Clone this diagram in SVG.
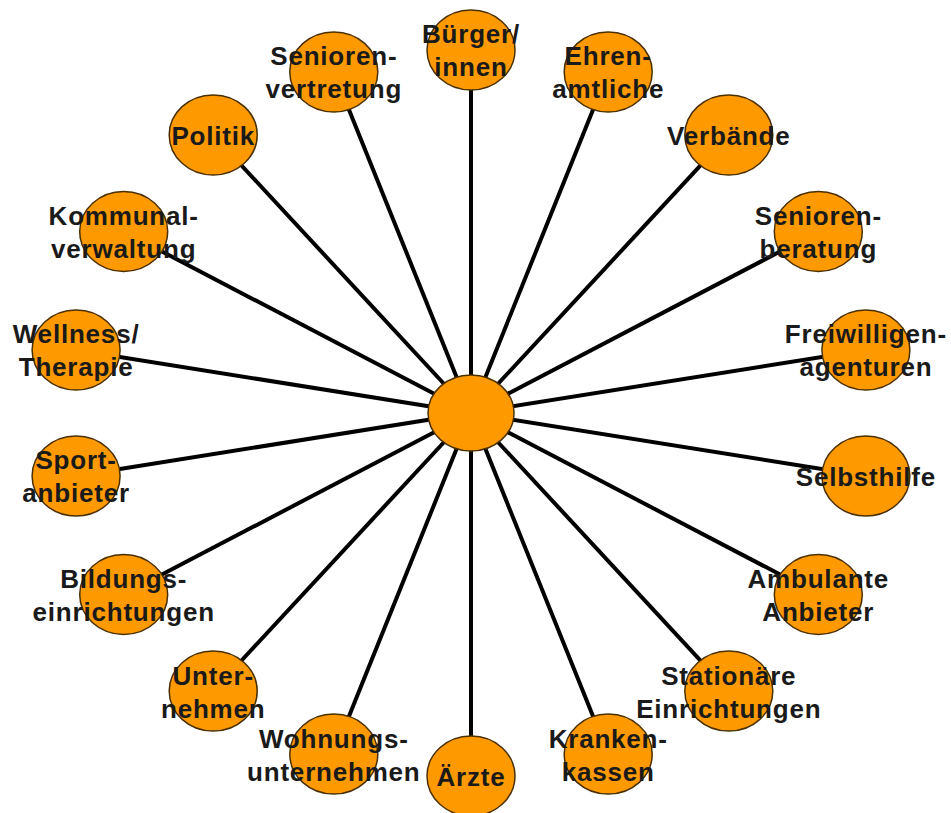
<svg xmlns="http://www.w3.org/2000/svg" width="951" height="813" viewBox="0 0 951 813">
<style>
.bg{fill:#ffffff}
.edge{stroke:#000000;stroke-width:4;fill:none}
.node ellipse{fill:#ff9900;stroke:#4a3000;stroke-width:1.5}
.node text{font-family:"Liberation Sans",Arial,sans-serif;font-weight:bold;font-size:26px;letter-spacing:0.8px;fill:#1a1a1a;text-anchor:middle}
</style>
<rect class="bg" x="0" y="0" width="951" height="813"/>
<g id="connectors">
<line class="edge" x1="471" y1="413" x2="471" y2="50"/>
<line class="edge" x1="471" y1="413" x2="608.2" y2="71.9"/>
<line class="edge" x1="471" y1="413" x2="728.8" y2="134.9"/>
<line class="edge" x1="471" y1="413" x2="818.3" y2="231.5"/>
<line class="edge" x1="471" y1="413" x2="865.9" y2="350"/>
<line class="edge" x1="471" y1="413" x2="865.9" y2="476"/>
<line class="edge" x1="471" y1="413" x2="818.3" y2="594.5"/>
<line class="edge" x1="471" y1="413" x2="728.8" y2="691.1"/>
<line class="edge" x1="471" y1="413" x2="608.2" y2="754.1"/>
<line class="edge" x1="471" y1="413" x2="471" y2="776"/>
<line class="edge" x1="471" y1="413" x2="333.8" y2="754.1"/>
<line class="edge" x1="471" y1="413" x2="213.2" y2="691.1"/>
<line class="edge" x1="471" y1="413" x2="123.7" y2="594.5"/>
<line class="edge" x1="471" y1="413" x2="76.1" y2="476"/>
<line class="edge" x1="471" y1="413" x2="76.1" y2="350"/>
<line class="edge" x1="471" y1="413" x2="123.7" y2="231.5"/>
<line class="edge" x1="471" y1="413" x2="213.2" y2="134.9"/>
<line class="edge" x1="471" y1="413" x2="333.8" y2="71.9"/>
</g>
<g id="center" class="node"><ellipse cx="471" cy="413" rx="43" ry="38"/></g>
<g id="buerger" class="node"><ellipse cx="471" cy="50" rx="44" ry="40"/><text x="471" y="43">Bürger/</text><text x="471" y="76">innen</text></g>
<g id="ehrenamtliche" class="node"><ellipse cx="608.2" cy="71.9" rx="44" ry="40"/><text x="608.2" y="65">Ehren-</text><text x="608.2" y="98">amtliche</text></g>
<g id="verbaende" class="node"><ellipse cx="728.8" cy="134.9" rx="44" ry="40"/><text x="728.8" y="145">Verbände</text></g>
<g id="seniorenberatung" class="node"><ellipse cx="818.3" cy="231.5" rx="44" ry="40"/><text x="818.3" y="225">Senioren-</text><text x="818.3" y="258">beratung</text></g>
<g id="freiwilligen" class="node"><ellipse cx="865.9" cy="350" rx="44" ry="40"/><text x="865.9" y="343">Freiwilligen-</text><text x="865.9" y="376">agenturen</text></g>
<g id="selbsthilfe" class="node"><ellipse cx="865.9" cy="476" rx="44" ry="40"/><text x="865.9" y="486">Selbsthilfe</text></g>
<g id="ambulante" class="node"><ellipse cx="818.3" cy="594.5" rx="44" ry="40"/><text x="818.3" y="588">Ambulante</text><text x="818.3" y="621">Anbieter</text></g>
<g id="stationaere" class="node"><ellipse cx="728.8" cy="691.1" rx="44" ry="40"/><text x="728.8" y="685">Stationäre</text><text x="728.8" y="718">Einrichtungen</text></g>
<g id="krankenkassen" class="node"><ellipse cx="608.2" cy="754.1" rx="44" ry="40"/><text x="608.2" y="748">Kranken-</text><text x="608.2" y="781">kassen</text></g>
<g id="aerzte" class="node"><ellipse cx="471" cy="776" rx="44" ry="40"/><text x="471" y="786">Ärzte</text></g>
<g id="wohnungsunternehmen" class="node"><ellipse cx="333.8" cy="754.1" rx="44" ry="40"/><text x="333.8" y="748">Wohnungs-</text><text x="333.8" y="781">unternehmen</text></g>
<g id="unternehmen" class="node"><ellipse cx="213.2" cy="691.1" rx="44" ry="40"/><text x="213.2" y="685">Unter-</text><text x="213.2" y="718">nehmen</text></g>
<g id="bildung" class="node"><ellipse cx="123.7" cy="594.5" rx="44" ry="40"/><text x="123.7" y="588">Bildungs-</text><text x="123.7" y="621">einrichtungen</text></g>
<g id="sport" class="node"><ellipse cx="76.1" cy="476" rx="44" ry="40"/><text x="76.1" y="469">Sport-</text><text x="76.1" y="502">anbieter</text></g>
<g id="wellness" class="node"><ellipse cx="76.1" cy="350" rx="44" ry="40"/><text x="76.1" y="343">Wellness/</text><text x="76.1" y="376">Therapie</text></g>
<g id="kommunal" class="node"><ellipse cx="123.7" cy="231.5" rx="44" ry="40"/><text x="123.7" y="225">Kommunal-</text><text x="123.7" y="258">verwaltung</text></g>
<g id="politik" class="node"><ellipse cx="213.2" cy="134.9" rx="44" ry="40"/><text x="213.2" y="145">Politik</text></g>
<g id="seniorenvertretung" class="node"><ellipse cx="333.8" cy="71.9" rx="44" ry="40"/><text x="333.8" y="65">Senioren-</text><text x="333.8" y="98">vertretung</text></g>
</svg>
